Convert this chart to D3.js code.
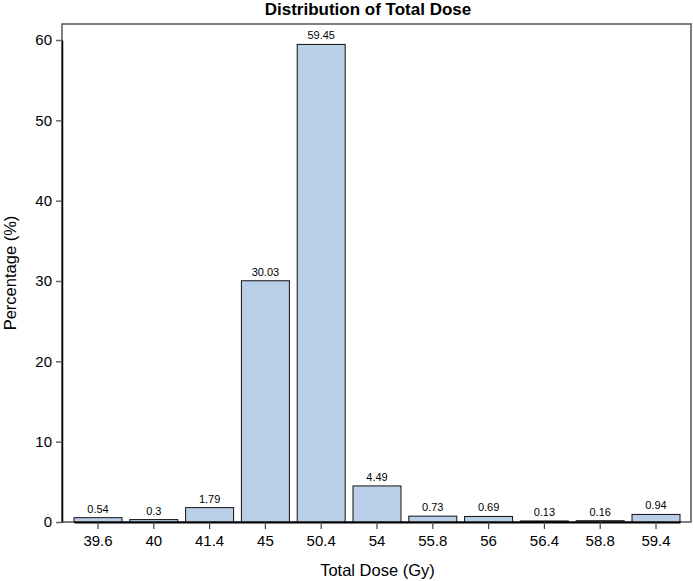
<!DOCTYPE html>
<html>
<head>
<meta charset="utf-8">
<script src="https://cdn.jsdelivr.net/npm/d3@7"></script>
<style>
  body { margin: 0; background: #fff; }
  svg { display: block; font-family: "Liberation Sans", Arial, sans-serif; }
</style>
</head>
<body>
<div id="chart"></div>
<script>
const doses = ['39.6', '40', '41.4', '45', '50.4', '54', '55.8', '56', '56.4', '58.8', '59.4'];
const percents = [0.54, 0.3, 1.79, 30.03, 59.45, 4.49, 0.73, 0.69, 0.13, 0.16, 0.94];
const yTicks = [0, 10, 20, 30, 40, 50, 60];

const width = 693;
const height = 581;
const margin = { top: 24, right: 1, bottom: 59, left: 62 };

const svg = d3.select('#chart')
    .append('svg')
    .attr('width', width)
    .attr('height', height);

const x = d3.scaleBand()
    .domain(doses)
    .range([74, 680])
    .paddingInner(0.14);

const y = d3.scaleLinear()
    .domain([0, 60])
    .range([height - margin.bottom, 40]);

// frame
svg.append('rect')
    .attr('x', margin.left)
    .attr('y', margin.top)
    .attr('width', width - margin.left - margin.right - 1)
    .attr('height', height - margin.top - margin.bottom)
    .attr('fill', 'none')
    .attr('stroke', '#555')
    .attr('stroke-width', 1.5);

// bars
svg.selectAll('rect.bar')
    .data(doses)
    .enter()
    .append('rect')
    .attr('class', 'bar')
    .attr('x', d => x(d))
    .attr('y', (d, i) => y(percents[i]))
    .attr('width', x.bandwidth())
    .attr('height', (d, i) => y(0) - y(percents[i]))
    .attr('fill', '#b9cfe7')
    .attr('stroke', '#111')
    .attr('stroke-width', 1);

// bar labels
svg.selectAll('text.lbl')
    .data(doses)
    .enter()
    .append('text')
    .attr('class', 'lbl')
    .attr('x', d => x(d) + x.bandwidth() / 2)
    .attr('y', (d, i) => y(percents[i]) - 5)
    .attr('text-anchor', 'middle')
    .attr('font-size', 11)
    .text((d, i) => percents[i]);

// axes
const yAxis = svg.append('g')
    .attr('transform', `translate(${margin.left}, 0)`)
    .call(d3.axisLeft(y).tickValues(yTicks).tickSize(6).tickPadding(4).tickSizeOuter(0));
yAxis.select('.domain').attr('stroke', '#000').attr('stroke-width', 1.5);
yAxis.selectAll('.tick line').attr('stroke', '#666').attr('stroke-width', 1.5);
yAxis.selectAll('.tick text').attr('font-size', 15).attr('fill', '#000')
    .style('font-family', '"Liberation Sans", Arial, sans-serif');

const xAxis = svg.append('g')
    .attr('transform', `translate(0, ${height - margin.bottom})`)
    .call(d3.axisBottom(x).tickSize(7).tickPadding(6).tickSizeOuter(0));
xAxis.select('.domain').attr('stroke', '#000').attr('stroke-width', 2);
xAxis.selectAll('.tick line').attr('stroke', '#444').attr('stroke-width', 1.2);
xAxis.selectAll('.tick text').attr('font-size', 15).attr('fill', '#000')
    .style('font-family', '"Liberation Sans", Arial, sans-serif');

// title
svg.append('text')
    .attr('x', 368)
    .attr('y', 15)
    .attr('text-anchor', 'middle')
    .attr('font-size', 17)
    .attr('font-weight', 'bold')
    .text('Distribution of Total Dose');

// axis titles
svg.append('text')
    .attr('x', (margin.left + width) / 2)
    .attr('y', 576)
    .attr('text-anchor', 'middle')
    .attr('font-size', 16.5)
    .text('Total Dose (Gy)');

svg.append('text')
    .attr('transform', `translate(16, ${(margin.top + height - margin.bottom) / 2}) rotate(-90)`)
    .attr('text-anchor', 'middle')
    .attr('font-size', 16.5)
    .text('Percentage (%)');
</script>
</body>
</html>
